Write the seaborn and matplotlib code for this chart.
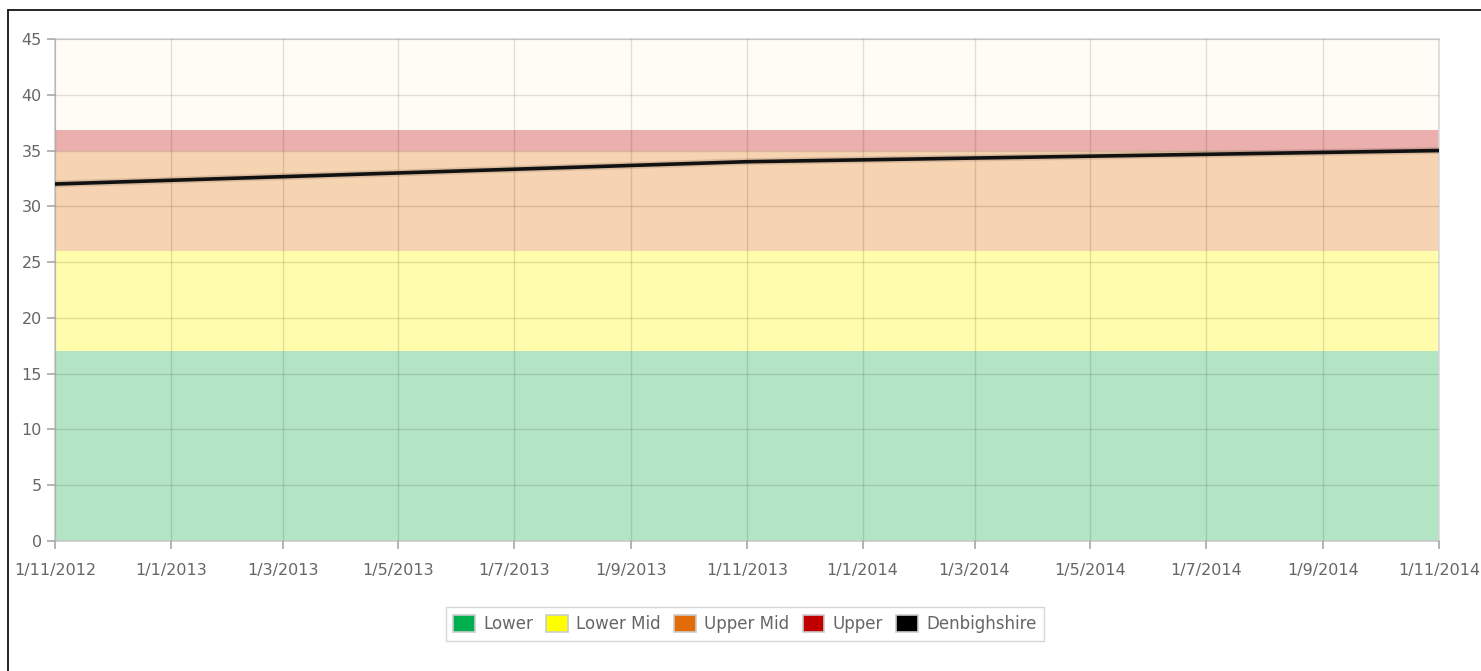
import matplotlib
matplotlib.use("Agg")
import matplotlib.pyplot as plt
import matplotlib.dates as mdates
from matplotlib.patches import Patch
from matplotlib.lines import Line2D
import seaborn as sns
import pandas as pd
import numpy as np

# ---- data ----
dates = ["2012-11-01", "2013-11-01", "2014-11-01"]
denbighshire = [32.0, 34.0, 35.0]
lower = [17.0, 17.0, 17.0]
lower_mid = [9.0, 9.0, 9.0]        # 17 -> 26
upper_mid = [9.0, 9.0, 9.0]        # 26 -> 35
upper = [1.8, 1.8, 1.8]            # 35 -> 36.8
band_names = ["Lower", "Lower Mid", "Upper Mid", "Upper"]
tick_dates = ["2012-11-01", "2013-01-01", "2013-03-01", "2013-05-01", "2013-07-01",
              "2013-09-01", "2013-11-01", "2014-01-01", "2014-03-01", "2014-05-01",
              "2014-07-01", "2014-09-01", "2014-11-01"]
y_ticks = [0, 5, 10, 15, 20, 25, 30, 35, 40, 45]

band_fill = ["#b3e5c4", "#fffcab", "#f6d3b1", "#ebb0ad"]
legend_cols = ["#00b050", "#ffff00", "#e36c09", "#c00000", "#000000"]

sns.set_theme(style="white")
plt.rcParams["font.family"] = ["DejaVu Sans"]

x = pd.to_datetime(dates)
df = pd.DataFrame({"date": x, "value": denbighshire})

fig = plt.figure(figsize=(14.81, 6.71), dpi=100)
ax = fig.add_axes([55/1481, 1-541/671, (1439-55)/1481, (541-39)/671])
ax.set_facecolor("#fffcf5")

ax.stackplot(x, lower, lower_mid, upper_mid, upper, colors=band_fill, zorder=1, linewidth=0)

sns.lineplot(data=df, x="date", y="value", ax=ax, color="#111111", linewidth=2.6, zorder=4)
ax.plot(x, denbighshire, color="#000000", alpha=0.12, linewidth=5, zorder=3)

ax.set_xlim(x[0], x[-1])
ax.set_ylim(0, 45)
ax.set_yticks(y_ticks)
tx = pd.to_datetime(tick_dates)
ax.set_xticks(tx)
ax.set_xticklabels([f"{d.day}/{d.month}/{d.year}" for d in tx])
ax.set_xlabel("")
ax.set_ylabel("")
ax.grid(True, color="#000000", alpha=0.12, linewidth=1, zorder=2)
ax.set_axisbelow(False)
for l in ax.get_xgridlines() + ax.get_ygridlines():
    l.set_zorder(2)

for s in ax.spines.values():
    s.set_visible(True)
ax.spines["left"].set_color("#cccccc")
ax.spines["bottom"].set_color("#cccccc")
ax.spines["right"].set_color("#dddddd")
ax.spines["top"].set_color("#dddddd")

ax.tick_params(axis="both", which="both", length=6, color="#aaaaaa", labelcolor="#666666",
               labelsize=11.5, direction="out", bottom=True, left=True)
ax.tick_params(axis="x", pad=10)

handles = [Patch(facecolor=c, edgecolor="#cccccc", linewidth=1.2) for c in legend_cols]
labels = band_names + ["Denbighshire"]
leg = fig.legend(handles, labels, loc="center", bbox_to_anchor=(745/1481, 1-624/671), ncol=5,
                 frameon=True, fontsize=12, handlelength=1.3, handleheight=1.2,
                 handletextpad=0.5, columnspacing=0.8, borderpad=0.45, fancybox=False)
leg.get_frame().set_edgecolor("#cccccc")
leg.get_frame().set_linewidth(1)
for t in leg.get_texts():
    t.set_color("#666666")

# outer frame lines (left and top)
fig.add_artist(Line2D([7.5/1481, 7.5/1481], [0, 1-10/671], color="black", linewidth=1.2))
fig.add_artist(Line2D([7.5/1481, 1], [1-10/671, 1-10/671], color="black", linewidth=1.2))

fig.savefig("out.png", dpi=100)
